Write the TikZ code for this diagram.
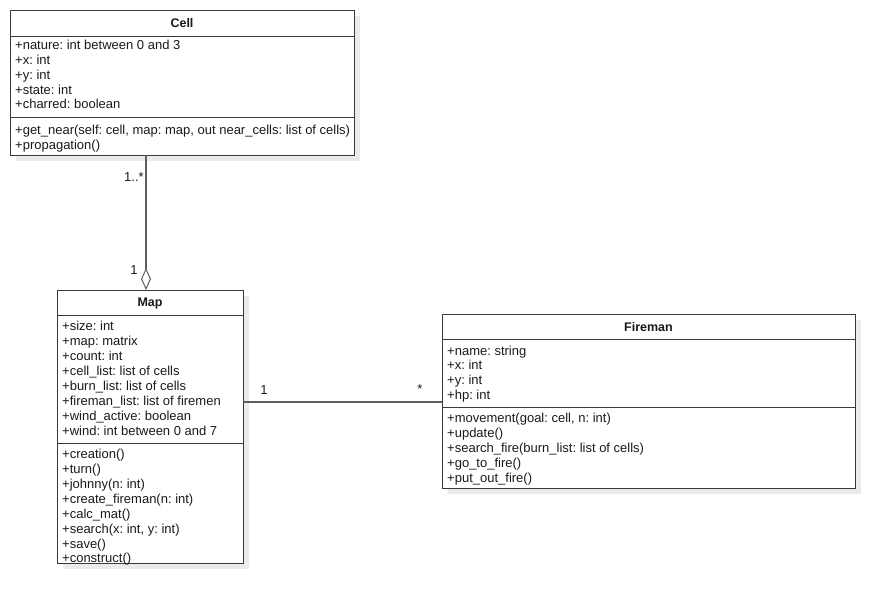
\documentclass[tikz,border=0pt]{standalone}
\usepackage{fontspec}
\setmainfont{Liberation Sans}
\usetikzlibrary{arrows.meta,shadows}

\definecolor{boxline}{HTML}{3A3A3A}
\definecolor{connline}{HTML}{5E5E5E}
\definecolor{shadowgray}{HTML}{EBEBEB}
\definecolor{txt}{HTML}{1A1A1A}

\tikzset{
  classbox/.style={draw=boxline, line width=0.95pt, fill=white, inner sep=0pt, outer sep=0pt,
    anchor=north west,
    drop shadow={shadow xshift=6pt, shadow yshift=-6pt, opacity=1, fill=shadowgray}},
  sepline/.style={draw=boxline, line width=0.95pt},
  classname/.style={font=\fontsize{12.5}{14}\selectfont\bfseries, text=txt, inner sep=0pt},
  member/.style={font=\fontsize{13}{15}\selectfont\frenchspacing, text=txt, anchor=west, inner sep=0pt,
    text height=10pt, text depth=2pt},
  conn/.style={draw=connline, line width=1.2pt},
  mult/.style={font=\fontsize{13}{15}\selectfont, text=txt, inner sep=0pt}
}

\begin{document}
\begin{tikzpicture}[x=1pt,y=-1pt]
\useasboundingbox (0,0) rectangle (895,610);

% ---------- Cell ----------
\node[classbox, minimum width=344pt, minimum height=145pt] (cell) at (10,10) {};
\node[classname] (cellname) at (182,23) {Cell};
\draw[sepline] (cell.west |- 0,36) -- (cell.east |- 0,36);
\draw[sepline] (cell.west |- 0,117) -- (cell.east |- 0,117);
\node[member] (c1) at (15,46) {+nature: int between 0 and 3};
\node[member] (c2) at (15,61) {+x: int};
\node[member] (c3) at (15,76) {+y: int};
\node[member] (c4) at (15,91) {+state: int};
\node[member] (c5) at (15,105) {+charred: boolean};
\node[member] (c6) at (15,131) {+get\_near(self: cell, map: map, out near\_cells: list of cells)};
\node[member] (c7) at (15,145) {+propagation()};

% ---------- Map ----------
\node[classbox, minimum width=186pt, minimum height=273pt] (map) at (57,290) {};
\node[classname] (mapname) at (150,303) {Map};
\draw[sepline] (map.west |- 0,315) -- (map.east |- 0,315);
\draw[sepline] (map.west |- 0,443) -- (map.east |- 0,443);
\node[member] (m1) at (62,326) {+size: int};
\node[member] (m2) at (62,341) {+map: matrix};
\node[member] (m3) at (62,356) {+count: int};
\node[member] (m4) at (62,371) {+cell\_list: list of cells};
\node[member] (m5) at (62,386) {+burn\_list: list of cells};
\node[member] (m6) at (62,401) {+fireman\_list: list of firemen};
\node[member] (m7) at (62,416) {+wind\_active: boolean};
\node[member] (m8) at (62,431) {+wind: int between 0 and 7};
\node[member] (m9) at (62,454) {+creation()};
\node[member] (m10) at (62,469) {+turn()};
\node[member] (m11) at (62,484) {+johnny(n: int)};
\node[member] (m12) at (62,499) {+create\_fireman(n: int)};
\node[member] (m13) at (62,514) {+calc\_mat()};
\node[member] (m14) at (62,529) {+search(x: int, y: int)};
\node[member] (m15) at (62,544) {+save()};
\node[member] (m16) at (62,558) {+construct()};

% ---------- Fireman ----------
\node[classbox, minimum width=413pt, minimum height=174pt] (fireman) at (442,314) {};
\node[classname] (firemanname) at (648.5,327) {Fireman};
\draw[sepline] (fireman.west |- 0,339) -- (fireman.east |- 0,339);
\draw[sepline] (fireman.west |- 0,407) -- (fireman.east |- 0,407);
\node[member] (f1) at (447,351) {+name: string};
\node[member] (f2) at (447,365) {+x: int};
\node[member] (f3) at (447,380) {+y: int};
\node[member] (f4) at (447,395) {+hp: int};
\node[member] (f5) at (447,418) {+movement(goal: cell, n: int)};
\node[member] (f6) at (447,433) {+update()};
\node[member] (f7) at (447,448) {+search\_fire(burn\_list: list of cells)};
\node[member] (f8) at (447,463) {+go\_to\_fire()};
\node[member] (f9) at (447,478) {+put\_out\_fire()};

% ---------- Associations ----------
\coordinate (agg) at (146,290);
\draw[conn, -{Diamond[open, fill=white, length=22pt, width=10pt, line width=1pt]}]
  (agg |- cell.south) -- (agg);
\node[mult] (aggtop) at (134,177) {1..*};
\node[mult] (aggbot) at (134,270) {1};

\draw[conn] (map.east |- 0,402) -- (fireman.west |- 0,402);
\node[mult] (assocl) at (264,390) {1};
\node[mult] (assocr) at (420,389) {*};
\end{tikzpicture}
\end{document}
